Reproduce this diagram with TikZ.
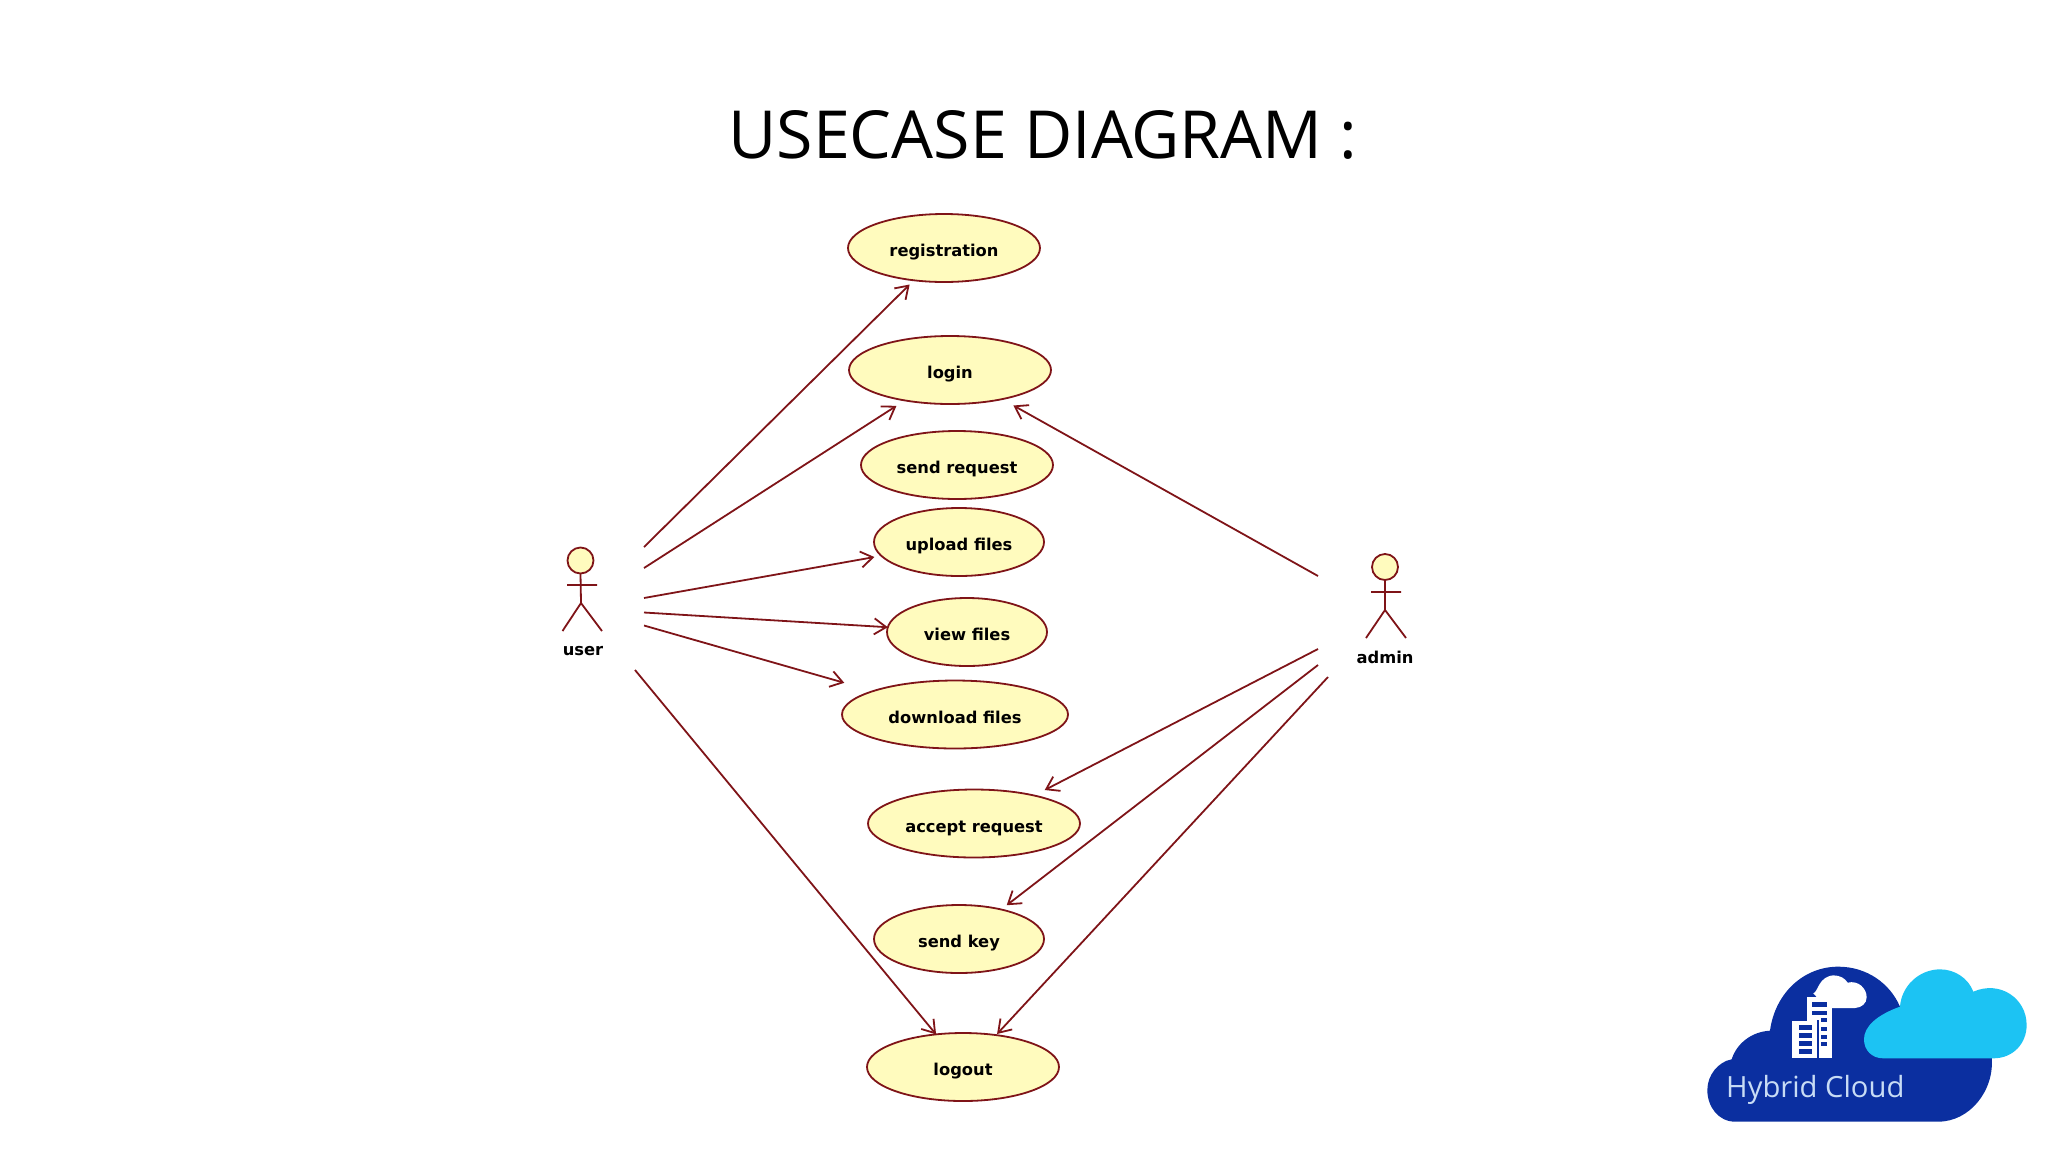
\documentclass[tikz,border=0pt]{standalone}
\usepackage{fontspec}
\usetikzlibrary{shapes.geometric,arrows.meta}
\newfontfamily\titlefont{Open Sans}
\newfontfamily\umlfont{DejaVu Sans}
\definecolor{umlred}{HTML}{7F1418}
\definecolor{umlfill}{HTML}{FFFBBE}
\definecolor{logodark}{HTML}{0B2FA0}
\definecolor{logolight}{HTML}{1CC3F3}
\definecolor{logotext}{HTML}{C8DCF5}
\tikzset{
  x=1pt,y=-1pt,
  usecase/.style={shape=ellipse,draw=umlred,fill=umlfill,line width=1.8pt,inner sep=0pt,outer sep=0pt,minimum height=68pt,text height=17pt,text depth=0pt,font=\umlfont\bfseries\fontsize{16.3}{19}\selectfont,text=black},
  link/.style={draw=umlred,line width=1.8pt,-{Straight Barb[length=12pt,width=16pt,line width=1.8pt]}},
  actorline/.style={draw=umlred,line width=1.8pt},
  actorhead/.style={shape=circle,draw=umlred,fill=umlfill,line width=1.8pt,minimum size=26pt,inner sep=0pt,outer sep=0pt},
  actorlabel/.style={font=\umlfont\bfseries\fontsize{16.3}{19}\selectfont,inner sep=0pt,text=black},
}
\begin{document}
\begin{tikzpicture}
\useasboundingbox (0,0) rectangle (2048,1152);
\node[font=\titlefont\fontsize{66.3}{78}\selectfont,text=black,inner sep=0pt] (title) at (1043,135) {USECASE DIAGRAM :};
% use cases
\node[usecase,minimum width=192pt] (reg) at (944,248) {registration};
\node[usecase,minimum width=202pt] (login) at (950,370) {login};
\node[usecase,minimum width=192pt] (sreq) at (957,465) {send request};
\node[usecase,minimum width=170pt] (upl) at (959,542) {upload files};
\node[usecase,minimum width=160pt] (view) at (967,632) {view files};
\node[usecase,minimum width=226pt] (down) at (955,714.5) {download files};
\node[usecase,minimum width=212pt] (acc) at (974,823.5) {accept request};
\node[usecase,minimum width=170pt] (skey) at (959,939) {send key};
\node[usecase,minimum width=192pt] (logout) at (963,1067) {logout};
% actors
\node[actorhead] (userhead) at (580.5,560.5) {};
\coordinate (userhip) at (581,603);
\draw[actorline] (userhead.south) -- (userhip) (567,585) -- (597,585) (562.5,631) -- (userhip) -- (602,631);
\node[actorlabel] (userlabel) at (583,651) {user};
\node[actorhead] (adminhead) at (1385,567) {};
\coordinate (adminhip) at (1385,610);
\draw[actorline] (adminhead.south) -- (adminhip) (1371,592) -- (1401,592) (1366,638) -- (adminhip) -- (1406,638);
\node[actorlabel] (adminlabel) at (1385,657) {admin};
% free ends of the connectors
\coordinate (u1) at (644,547);
\coordinate (u2) at (644,568);
\coordinate (u3) at (644,598);
\coordinate (u4) at (644,612.5);
\coordinate (u5) at (644,625.5);
\coordinate (u6) at (635,670);
\coordinate (a1) at (1318,576);
\coordinate (a2) at (1318,649);
\coordinate (a3) at (1318,665);
\coordinate (a4) at (1328,677);
% connectors
\draw[link,shorten >=6pt] (u1) -- (reg.227);
\draw[link,shorten >=10pt] (u2) -- (login.214.2);
\draw[link,shorten >=7pt] (u3) -- (upl);
\draw[link] (u4) -- (view);
\draw[link,shorten >=30pt] (u5) -- (down);
\draw[link] (u6) -- (logout);
\draw[link,shorten >=13pt] (a1) -- (login);
\draw[link,shorten >=12pt] (a2) -- (acc.25.6);
\draw[link,shorten >=7pt] (a3) -- (skey.35.9);
\draw[link,shorten >=1.5pt] (a4) -- (logout.44.1);
% logo
\begin{scope}[shift={(1680,940)},x=0.3333pt,y=-0.3333pt]
\fill[logodark] (165,545) .. controls (115,545) and (82,500) .. (82,450)
  .. controls (82,405) and (115,365) .. (155,358)
  .. controls (170,310) and (215,275) .. (270,272)
  .. controls (285,160) and (370,80) .. (475,80)
  .. controls (560,80) and (630,130) .. (660,200)
  -- (935,350)
  .. controls (945,450) and (870,545) .. (775,545) -- cycle;
\fill[logolight] (610,355) .. controls (575,355) and (552,330) .. (552,298)
  .. controls (552,260) and (590,225) .. (660,200)
  .. controls (665,135) and (720,88) .. (780,88)
  .. controls (825,88) and (865,115) .. (880,155)
  .. controls (960,120) and (1040,175) .. (1040,255)
  .. controls (1040,310) and (1000,355) .. (940,355) -- cycle;
\fill[white] (400,160) .. controls (415,155) and (415,110) .. (460,106)
  .. controls (480,106) and (495,115) .. (503,128)
  .. controls (535,120) and (560,145) .. (560,172)
  .. controls (560,190) and (545,203) .. (525,204) -- (440,204) -- cycle;
\fill[white] (380,170) rectangle (457,355);
\fill[logodark] (412,240) rectangle (418,355);
\fill[white] (335,243) rectangle (412,355);
\foreach \wy in {187,212}{\fill[logodark] (397,\wy) rectangle (440,\wy+14);}
\foreach \wy in {235,260,284,306}{\fill[logodark] (422,\wy) rectangle (440,\wy+12);}
\foreach \wy in {256,280,304,328}{\fill[logodark] (356,\wy) rectangle (396,\wy+14);}
\node[text=logotext,font=\titlefont\fontsize{29.2}{33}\selectfont,inner sep=0pt] (logotitle) at (406,450) {Hybrid Cloud};
\end{scope}
\end{tikzpicture}
\end{document}
